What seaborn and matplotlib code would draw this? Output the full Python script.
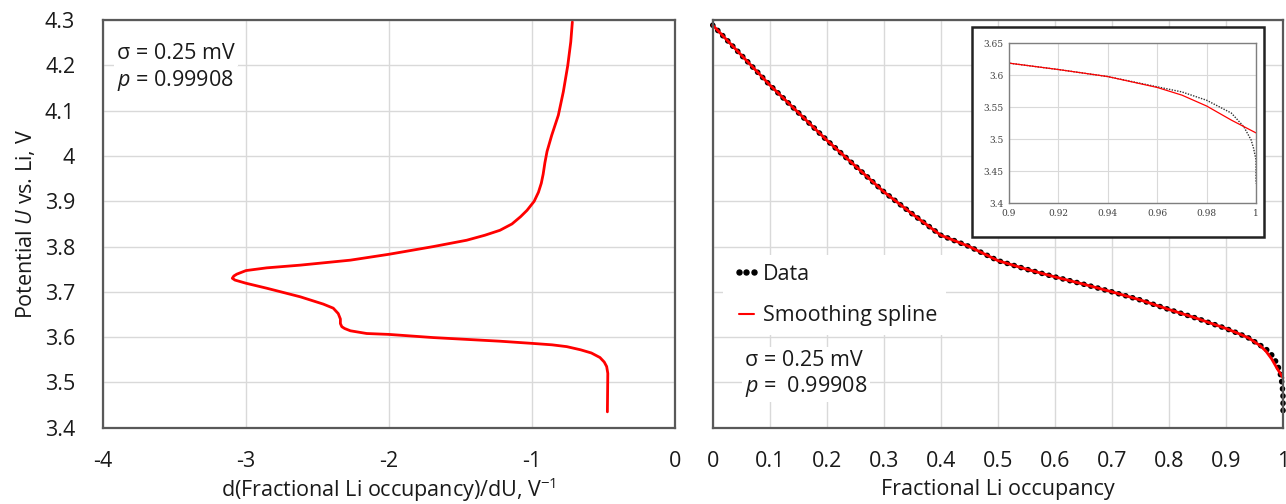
import numpy as np
import pandas as pd
import matplotlib
matplotlib.use("Agg")
import matplotlib.pyplot as plt
import seaborn as sns
from matplotlib.lines import Line2D
from matplotlib.patches import Rectangle

# ---------------- data ----------------
# Left panel: d(theta)/dU as a function of potential U
u_left = [3.435, 3.520, 3.535, 3.545, 3.555, 3.565, 3.572, 3.579, 3.583, 3.586,
          3.591, 3.595, 3.599, 3.606, 3.608, 3.614, 3.619, 3.623, 3.630, 3.640,
          3.652, 3.664, 3.673, 3.689, 3.708, 3.719, 3.726, 3.730, 3.735, 3.739,
          3.747, 3.753, 3.759, 3.770, 3.783, 3.800, 3.814, 3.825, 3.836, 3.850,
          3.866, 3.880, 3.900, 3.920, 3.940, 3.960, 3.985, 4.010, 4.046, 4.090,
          4.142, 4.200, 4.252, 4.296]
dtheta_du = [-0.473, -0.470, -0.478, -0.495, -0.525, -0.585, -0.660, -0.757, -0.860, -0.990,
             -1.224, -1.457, -1.690, -2.000, -2.156, -2.270, -2.310, -2.330, -2.340, -2.340,
             -2.355, -2.390, -2.460, -2.620, -2.855, -3.000, -3.077, -3.096, -3.085, -3.065,
             -3.000, -2.855, -2.620, -2.270, -2.000, -1.690, -1.457, -1.330, -1.224, -1.140,
             -1.080, -1.035, -0.985, -0.955, -0.935, -0.922, -0.910, -0.895, -0.862, -0.816,
             -0.781, -0.750, -0.729, -0.718]

# Right panel: potential vs fractional Li occupancy
theta_data = [0.0, 0.05, 0.1, 0.15, 0.2, 0.25, 0.3, 0.35, 0.4, 0.45, 0.5, 0.55, 0.6,
              0.65, 0.7, 0.75, 0.8, 0.85, 0.9, 0.92, 0.94, 0.96, 0.97, 0.98, 0.99,
              0.995, 0.998, 0.999, 1.0, 1.0]
u_data = [4.289, 4.223, 4.157, 4.096, 4.035, 3.978, 3.921, 3.872, 3.825, 3.800, 3.769,
          3.750, 3.733, 3.717, 3.700, 3.682, 3.661, 3.641, 3.619, 3.609, 3.598, 3.582,
          3.574, 3.561, 3.541, 3.520, 3.499, 3.486, 3.468, 3.431]
theta_spline = [0.0, 0.05, 0.1, 0.15, 0.2, 0.25, 0.3, 0.35, 0.4, 0.45, 0.5, 0.55, 0.6,
                0.65, 0.7, 0.75, 0.8, 0.85, 0.9, 0.92, 0.94, 0.96, 0.97, 0.98, 0.99, 1.0]
u_spline = [4.289, 4.223, 4.157, 4.096, 4.035, 3.978, 3.921, 3.872, 3.825, 3.800, 3.769,
            3.750, 3.733, 3.717, 3.700, 3.682, 3.661, 3.641, 3.619, 3.609, 3.598, 3.581,
            3.569, 3.552, 3.530, 3.510]

# tick labels
u_ticks = [3.4, 3.5, 3.6, 3.7, 3.8, 3.9, 4.0, 4.1, 4.2, 4.3]
u_ticklabels = ["3.4", "3.5", "3.6", "3.7", "3.8", "3.9", "4", "4.1", "4.2", "4.3"]
left_xticks = [-4, -3, -2, -1, 0]
left_xticklabels = ["-4", "-3", "-2", "-1", "0"]
right_xticks = [0.0, 0.1, 0.2, 0.3, 0.4, 0.5, 0.6, 0.7, 0.8, 0.9, 1.0]
right_xticklabels = ["0", "0.1", "0.2", "0.3", "0.4", "0.5", "0.6", "0.7", "0.8", "0.9", "1"]
inset_xticks = [0.9, 0.92, 0.94, 0.96, 0.98, 1.0]
inset_xticklabels = ["0.9", "0.92", "0.94", "0.96", "0.98", "1"]
inset_yticks = [3.4, 3.45, 3.5, 3.55, 3.6, 3.65]
inset_yticklabels = ["3.4", "3.45", "3.5", "3.55", "3.6", "3.65"]

# ---------------- style ----------------
sns.set_theme(style="whitegrid")
plt.rcParams["font.family"] = ["Open Sans", "DejaVu Sans"]
plt.rcParams["mathtext.fontset"] = "custom"
plt.rcParams["mathtext.rm"] = "Open Sans"
plt.rcParams["mathtext.it"] = "Open Sans:italic"
plt.rcParams["mathtext.bf"] = "Open Sans:bold"

FS = 15.5
GRID = "#d9d9d9"
SPINE = "#595959"
RED = "#ff0000"
TXT = "#1a1a1a"

fig = plt.figure(figsize=(12.86, 5.04), dpi=100)
fig.patch.set_facecolor("white")

axL = fig.add_axes([0.0801, 0.1514, 0.4448, 0.8086])
axR = fig.add_axes([0.5542, 0.1514, 0.4435, 0.8086])

def style_axes(ax):
    ax.set_facecolor("white")
    ax.grid(True, color=GRID, linewidth=1.0)
    for s in ax.spines.values():
        s.set_color(SPINE)
        s.set_linewidth(1.6)
        s.set_visible(True)
    ax.tick_params(axis="both", length=0, labelsize=FS, colors=TXT)
    ax.tick_params(axis="x", pad=17)
    ax.tick_params(axis="y", pad=20)

# ---- left panel ----
df_left = pd.DataFrame({"dtheta": dtheta_du, "U": u_left})
sns.lineplot(data=df_left, x="dtheta", y="U", sort=False, estimator=None,
             color=RED, linewidth=2.0, ax=axL)
axL.set_xlim(-4, 0)
axL.set_ylim(3.4, 4.3)
axL.set_xticks(left_xticks)
axL.set_xticklabels(left_xticklabels)
axL.set_yticks(u_ticks)
axL.set_yticklabels(u_ticklabels)
style_axes(axL)
axL.set_xlabel("d(Fractional Li occupancy)/dU, V$^{-1}$", fontsize=FS, labelpad=2, color=TXT)
axL.set_ylabel("Potential $U$ vs. Li, V", fontsize=FS, labelpad=6, color=TXT)
axL.text(0.0245, 0.919, "\u03c3 = 0.25 mV", transform=axL.transAxes, fontsize=FS,
         va="center", ha="left", color=TXT,
         bbox=dict(facecolor="white", edgecolor="none", pad=2))
axL.text(0.0245, 0.853, "$p$ = 0.99908", transform=axL.transAxes, fontsize=FS,
         va="center", ha="left", color=TXT,
         bbox=dict(facecolor="white", edgecolor="none", pad=2))

# ---- right panel ----
df_data = pd.DataFrame({"theta": theta_data, "U": u_data})
df_spl = pd.DataFrame({"theta": theta_spline, "U": u_spline})
sns.lineplot(data=df_data, x="theta", y="U", sort=False, estimator=None, color="black",
             linewidth=4.0, linestyle=(0, (0.05, 1.25)), dash_capstyle="round", ax=axR)
sns.lineplot(data=df_spl, x="theta", y="U", sort=False, estimator=None, color=RED,
             linewidth=2.0, ax=axR)
axR.set_xlim(0, 1)
axR.set_ylim(3.4, 4.3)
axR.set_xticks(right_xticks)
axR.set_xticklabels(right_xticklabels)
axR.set_yticks(u_ticks)
axR.set_yticklabels([])
style_axes(axR)
axR.set_xlabel("Fractional Li occupancy", fontsize=FS, labelpad=5, color=TXT)
axR.set_ylabel("")
for l in axR.lines:
    l.set_clip_on(False)

handles = [Line2D([0], [0], color="black", linestyle="none", marker="o", markersize=3.6),
           Line2D([0], [0], color=RED, linewidth=1.5)]
leg = axR.legend(handles, ["Data", "Smoothing spline"], loc="upper left",
                 bbox_to_anchor=(0.0, 0.45), fontsize=FS, frameon=True, framealpha=1.0,
                 edgecolor="none", facecolor="white", handlelength=1.3, handletextpad=0.15,
                 labelspacing=0.95, borderpad=0.4, fancybox=False, numpoints=3,
                 borderaxespad=0.5)
for t in leg.get_texts():
    t.set_color(TXT)
axR.text(0.057, 0.166, "\u03c3 = 0.25 mV", transform=axR.transAxes, fontsize=FS,
         va="center", ha="left", color=TXT,
         bbox=dict(facecolor="white", edgecolor="none", pad=2))
axR.text(0.057, 0.1005, "$p$ =  0.99908", transform=axR.transAxes, fontsize=FS,
         va="center", ha="left", color=TXT,
         bbox=dict(facecolor="white", edgecolor="none", pad=2))

# ---- inset ----
box = Rectangle((0.7558, 0.5298), 0.2271, 0.4172, transform=fig.transFigure,
                facecolor="white", edgecolor="#222222", linewidth=1.8, zorder=5)
fig.patches.append(box)
axI = fig.add_axes([0.7846, 0.5966, 0.1921, 0.3175], zorder=6)
sns.lineplot(data=df_data, x="theta", y="U", sort=False, estimator=None, color="#333333",
             linewidth=1.0, linestyle=(0, (1, 1)), ax=axI)
sns.lineplot(data=df_spl, x="theta", y="U", sort=False, estimator=None, color=RED,
             linewidth=0.9, ax=axI)
axI.set_xlim(0.9, 1.0)
axI.set_ylim(3.4, 3.65)
axI.set_xticks(inset_xticks)
axI.set_xticklabels(inset_xticklabels)
axI.set_yticks(inset_yticks)
axI.set_yticklabels(inset_yticklabels)
axI.set_facecolor("white")
axI.grid(True, color=GRID, linewidth=0.8)
for s in axI.spines.values():
    s.set_color("#7f7f7f")
    s.set_linewidth(1.0)
axI.tick_params(axis="both", length=0, labelsize=6.5, colors="#404040", pad=4)
for lab in axI.get_xticklabels() + axI.get_yticklabels():
    lab.set_family(["DejaVu Serif"])
axI.set_xlabel("")
axI.set_ylabel("")

fig.savefig("out.png", dpi=100, facecolor="white")
